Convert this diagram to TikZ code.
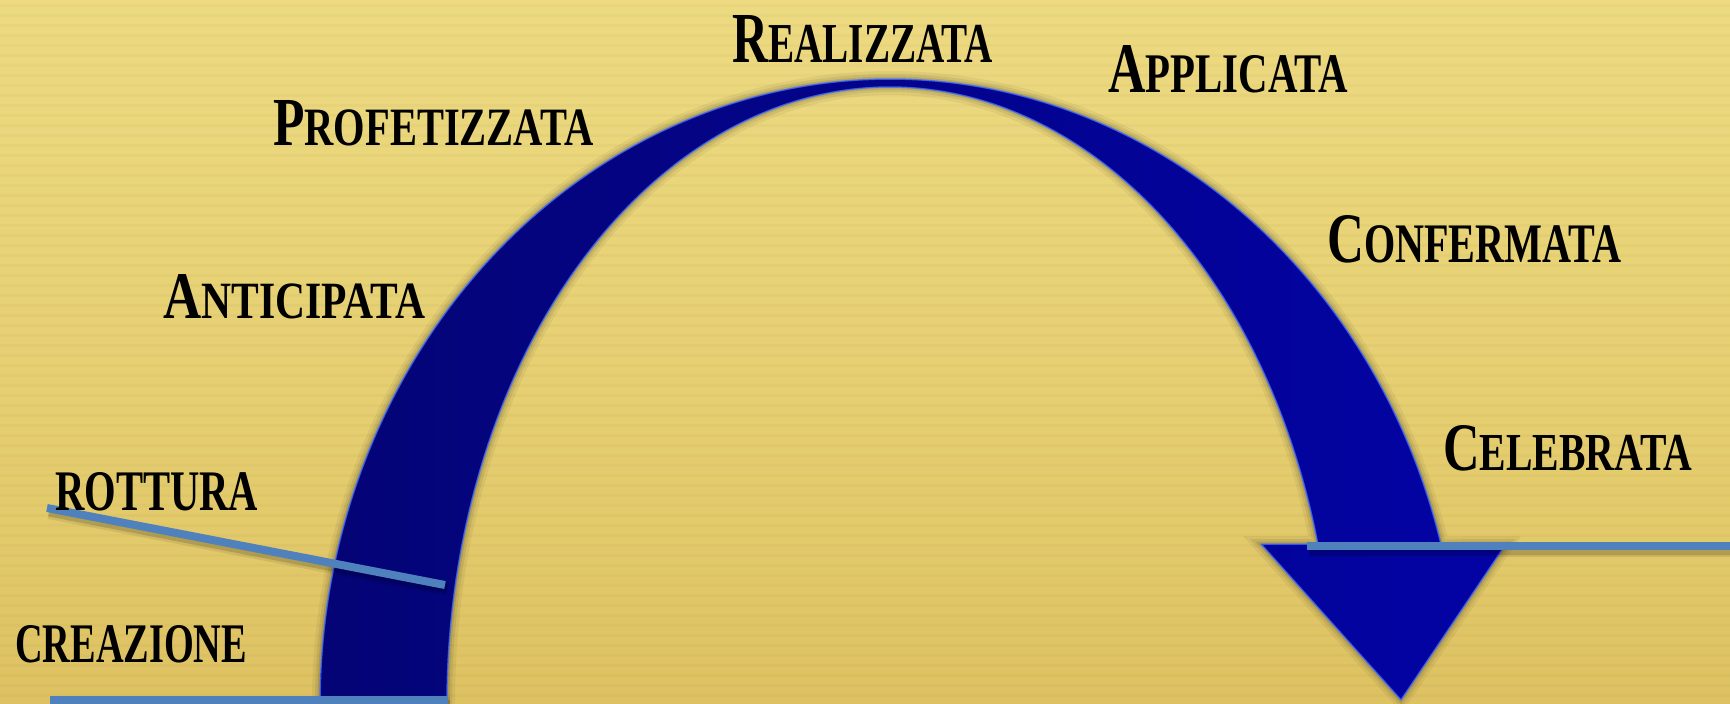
\documentclass[tikz,border=0pt]{standalone}
\usepackage{fontspec}
\setmainfont{Liberation Serif}
\usepackage{graphicx}
\definecolor{bgtop}{RGB}{243,228,143}
\definecolor{bgmid}{RGB}{229,206,112}
\definecolor{bgbot}{RGB}{213,178,80}
\definecolor{arrL}{RGB}{4,4,118}
\definecolor{arrR}{RGB}{3,3,165}
\definecolor{arrEdge}{RGB}{70,110,245}
\definecolor{lineblue}{RGB}{79,129,189}
\pgfdeclareverticalshading{bgv}{100bp}{color(0bp)=(bgbot); color(45bp)=(bgmid); color(100bp)=(bgtop)}
\newcommand{\capsc}[2]{{\fontsize{70}{70}\selectfont #1}{\fontsize{55}{55}\selectfont #2}}
\newcommand{\fitlbl}[3]{\resizebox{#1pt}{#2pt}{\bfseries #3}}
\begin{document}
\begin{tikzpicture}[x=1pt,y=-1pt,
  lbl/.style={inner sep=0pt, anchor=base west, text=black},
  bline/.style={line width=8pt, draw=lineblue},
  bshadow/.style={line width=#1, draw=black},
  halo/.style={preaction={draw=black, opacity=#1}},
]
\useasboundingbox (0,0) rectangle (1730,704);
% background
\shade[shading=bgv] (0,0) rectangle (1730,704);
\foreach \k in {0,...,70} \draw[black, opacity=0.02, line width=3pt] (0,{10*\k+5}) -- (1730,{10*\k+5});

% arch arrow
\path[line join=round,
  preaction={draw=black, opacity=0.05, line width=16pt},
  preaction={draw=black, opacity=0.07, line width=10pt},
  preaction={draw=black, opacity=0.10, line width=5pt},
  left color=arrL, right color=arrR,
  postaction={draw=arrEdge, line width=1.5pt, opacity=0.8}]
  plot[domain=180:345.2, samples=90, smooth] ({890+570*cos(\x)}, {704+625*sin(\x)})
  -- (1506,544) -- (1401,700) -- (1261,544) -- (1318,544)
  -- plot[domain=344.97:180, samples=90, smooth] ({890+443*cos(\x)}, {704+617*sin(\x)})
  -- cycle;

% lines
\coordinate (bl1) at (50,700);
\coordinate (bl2) at (448,700);
\coordinate (r1) at (47,508);
\coordinate (r2) at (445,585);
\coordinate (h1) at (1307,546);
\coordinate (h2) at (1730,546);
\foreach \a/\b in {bl1/bl2, r1/r2, h1/h2}{
  \draw[bshadow=14pt, opacity=0.08, transform canvas={shift={(2pt,-4pt)}}] (\a) -- (\b);
  \draw[bshadow=9pt, opacity=0.15, transform canvas={shift={(2pt,-4pt)}}] (\a) -- (\b);
}
\draw[bline] (bl1) -- (bl2);
\draw[bline] (r1) -- (r2);
\draw[bline] (h1) -- (h2);

% labels
\node[lbl] (realizzata) at (732,62) {\fitlbl{261}{47}{\capsc{R}{EALIZZATA}}};
\node[lbl] (profetizzata) at (273,145) {\fitlbl{320}{45}{\capsc{P}{ROFETIZZATA}}};
\node[lbl] (anticipata) at (163,318) {\fitlbl{262}{44}{\capsc{A}{NTICIPATA}}};
\node[lbl] (applicata) at (1108,92) {\fitlbl{240}{47}{\capsc{A}{PPLICATA}}};
\node[lbl] (confermata) at (1327,262) {\fitlbl{294}{47}{\capsc{C}{ONFERMATA}}};
\node[lbl] (celebrata) at (1443,470) {\fitlbl{249}{45}{\capsc{C}{ELEBRATA}}};
\node[lbl] (rottura) at (55,510) {\fitlbl{203}{38}{ROTTURA}};
\node[lbl] (creazione) at (15,662) {\fitlbl{232}{37}{CREAZIONE}};
\end{tikzpicture}
\end{document}
